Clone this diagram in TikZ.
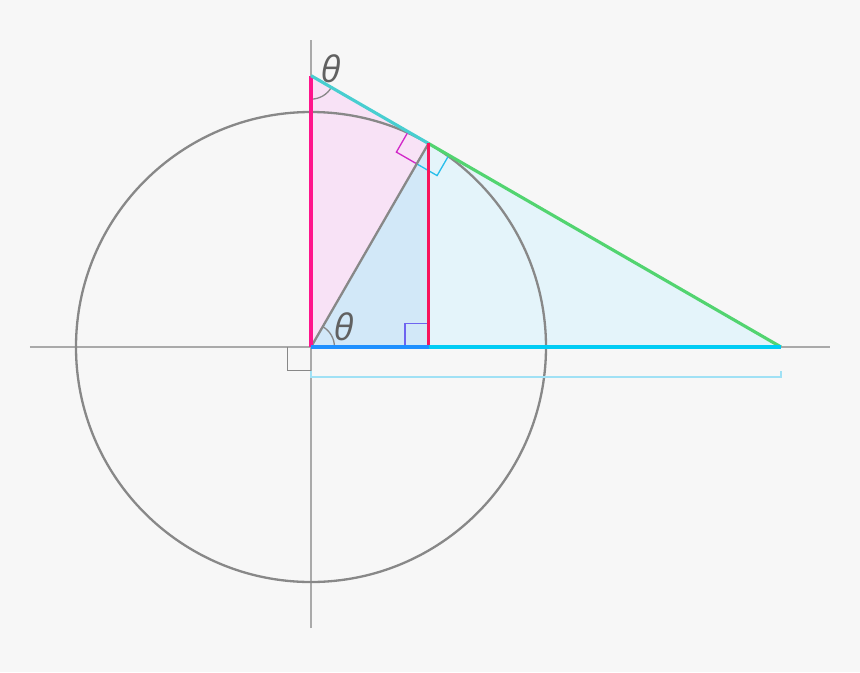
\documentclass[tikz,border=0pt]{standalone}
\usepackage{fontspec}
\usepackage{tikz}
\newfontfamily\thetafont{Open Sans}
\definecolor{bgcol}{HTML}{F7F7F7}
\definecolor{axiscol}{HTML}{AAAAAA}
\definecolor{circcol}{HTML}{888888}
\definecolor{cosecpink}{RGB}{255,20,140}
\definecolor{sinred}{RGB}{248,20,92}
\definecolor{cotteal}{RGB}{72,206,208}
\definecolor{tangreen}{RGB}{82,212,112}
\definecolor{cosblue}{RGB}{30,144,255}
\definecolor{seccyan}{RGB}{0,204,244}
\definecolor{pinkfill}{RGB}{248,226,246}
\definecolor{lightfill}{RGB}{228,244,250}
\definecolor{bluefill}{RGB}{210,232,248}
\definecolor{sqmagenta}{RGB}{210,40,200}
\definecolor{sqcyan}{RGB}{40,190,235}
\definecolor{sqpurple}{RGB}{110,100,240}
\definecolor{bracecol}{RGB}{160,225,245}
\tikzset{
  axisline/.style={draw=axiscol,line width=0.7pt},
  trigline/.style={line width=1.9pt},
  rightmark/.style={line width=0.8pt},
  anglelabel/.style={text=black!62,font=\thetafont\itshape\fontsize{22}{26}\selectfont}
}

\begin{document}
\begin{tikzpicture}
\useasboundingbox[fill=bgcol] (-6.617,-6.915) rectangle (11.681,7.383);
\coordinate (O) at (0,0);
\coordinate (P) at (60:5);
\coordinate (F) at (2.5,0);
\coordinate (T) at (0,5.7735);
\coordinate (S) at (10,0);
\coordinate (axL) at (-5.98,0);
\coordinate (axR) at (11.04,0);
\coordinate (axB) at (0,-5.98);
\coordinate (axT) at (0,6.53);
% axes
\draw[axisline] (axL)--(axR);
\draw[axisline] (axB)--(axT);
% filled triangles
\fill[pinkfill] (O)--(T)--(P)--cycle;
\fill[lightfill] (O)--(P)--(S)--cycle;
\fill[bluefill] (O)--(P)--(F)--cycle;
% unit circle
\draw[circcol,line width=1.4pt] (O) circle (5);
% right angle marks
\draw[rightmark,draw=circcol] (O) ++(-0.5,0)--++(0,-0.5)--++(0.5,0);
\draw[rightmark,draw=sqpurple] (F) ++(-0.5,0)--++(0,0.5)--++(0.5,0);
\draw[rightmark,draw=sqmagenta] (P) ++(150:0.5)--++(240:0.5)--++(-30:0.5);
\draw[rightmark,draw=sqcyan] (P) ++(-30:0.5)--++(240:0.5)--++(150:0.5);
% angle arcs
\draw[circcol,line width=0.8pt] (O) ++(0.5,0) arc (0:60:0.5);
\draw[circcol,line width=0.8pt] (T) ++(0,-0.5) arc (270:330:0.5);
\node[anglelabel] (thetaO) at (0.70,0.43) {θ};
\node[anglelabel] (thetaT) at (0.42,5.93) {θ};
% trig segments
\draw[circcol,line width=1.4pt] (O)--(P);
\draw[trigline,cosecpink] (O)--(T);
\draw[trigline,cotteal] (T)--(P);
\draw[trigline,tangreen] (P)--(S);
\draw[trigline,sinred] (P)--(F);
\draw[trigline,seccyan] (F)--(S);
\draw[line width=2.2pt,cosblue] (O)--(F);
% secant bracket
\begin{scope}[bracecol,line width=0.9pt]
\draw (0,-0.5)--(0,-0.64)--(10,-0.64)--(10,-0.5);
\end{scope}
\end{tikzpicture}
\end{document}
